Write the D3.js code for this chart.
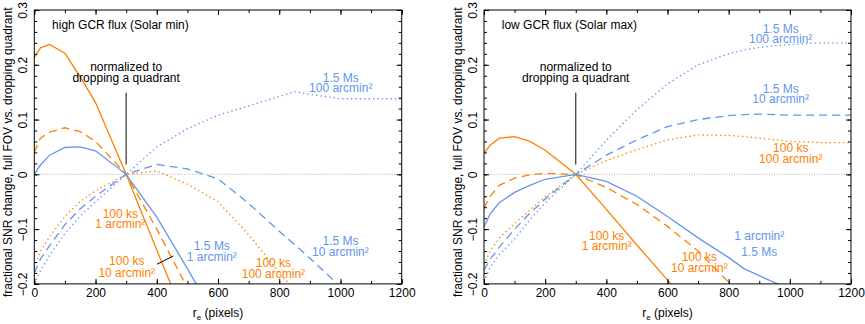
<!DOCTYPE html>
<html><head><meta charset="utf-8">
<script src="https://cdn.jsdelivr.net/npm/d3@7"></script>
<style>
body{margin:0;background:#fff;}
svg{display:block;font-family:"Liberation Sans",Arial,Helvetica,sans-serif;}
</style></head>
<body><svg id="c" width="865" height="324"></svg>
<script>
// ---------- data ----------
const rE = [0, 20, 50, 100, 150, 200, 300, 400, 500, 600, 700, 800, 850, 900, 1000, 1100, 1200];
const xTicks = [0, 200, 400, 600, 800, 1000, 1200];
const yTicks = [-0.2, -0.1, 0, 0.1, 0.2, 0.3];
const yTickLabels = ["\u22120.2", "\u22120.1", "0", "0.1", "0.2", "0.3"];

// high GCR flux (Solar min)
const minKs1    = [0.213, 0.231, 0.237, 0.221, 0.178, 0.131, 0, -0.138, -0.275, null, null, null, null, null, null, null, null];
const minKs10   = [0.040, 0.066, 0.077, 0.085, 0.078, 0.060, 0, -0.100, -0.207, null, null, null, null, null, null, null, null];
const minKs100  = [-0.170, -0.140, -0.114, -0.077, -0.050, -0.030, 0, 0.006, -0.018, -0.050, -0.110, -0.180, -0.210, null, null, null, null];
const minMs1    = [0, 0.017, 0.035, 0.049, 0.050, 0.043, 0, -0.078, -0.172, -0.270, null, null, null, null, null, null, null];
const minMs10   = [-0.180, -0.155, -0.130, -0.092, -0.063, -0.040, 0, 0.018, 0.010, -0.008, -0.053, -0.104, -0.128, -0.153, -0.205, null, null];
const minMs100  = [-0.200, -0.176, -0.148, -0.108, -0.076, -0.050, 0, 0.050, 0.083, 0.108, 0.125, 0.142, 0.151, 0.146, 0.138, 0.138, 0.138];

// low GCR flux (Solar max)
const maxKs1    = [0.039, 0.053, 0.066, 0.069, 0.060, 0.044, 0, -0.064, -0.129, -0.193, -0.257, null, null, null, null, null, null];
const maxKs10   = [-0.062, -0.040, -0.020, -0.007, -0.001, 0.002, 0, -0.024, -0.055, -0.095, -0.140, -0.197, -0.230, null, null, null, null];
const maxKs100  = [-0.165, -0.140, -0.116, -0.090, -0.065, -0.041, 0, 0.025, 0.045, 0.063, 0.072, 0.071, 0.069, 0.066, 0.060, 0.058, 0.058];
const maxMs1    = [-0.096, -0.072, -0.052, -0.033, -0.020, -0.009, 0, -0.013, -0.040, -0.077, -0.116, -0.152, -0.172, -0.185, -0.210, null, null];
const maxMs10   = [-0.175, -0.155, -0.133, -0.100, -0.071, -0.045, 0, 0.035, 0.063, 0.087, 0.100, 0.107, 0.109, 0.110, 0.108, 0.108, 0.108];
const maxMs100  = [-0.196, -0.170, -0.147, -0.118, -0.083, -0.052, 0, 0.062, 0.118, 0.165, 0.200, 0.220, 0.227, 0.232, 0.237, 0.240, 0.240];

const panelTitles = ["high GCR flux (Solar min)", "low GCR flux (Solar max)"];
const noteLines = ["normalized to", "dropping a quadrant"];

// ---------- styles ----------
const ORANGE = "#ff8000", BLUE = "#6495ed";
const styleOf = {
  solid:  null,
  dashed: "8,5",
  dotted: "1.4,3"
};

const svg = d3.select("#c");
const fs = 12;

const panels = [
  { x0: 34.3, x1: 401.7, title: panelTitles[0],
    series: [
      {v: minKs1, c: ORANGE, s: "solid"}, {v: minKs10, c: ORANGE, s: "dashed"}, {v: minKs100, c: ORANGE, s: "dotted"},
      {v: minMs1, c: BLUE, s: "solid"}, {v: minMs10, c: BLUE, s: "dashed"}, {v: minMs100, c: BLUE, s: "dotted"}],
    labels: [
      {c: BLUE, x: 1001, y: [0.169, 0.150], t: ["1.5 Ms", "100 arcmin\u00b2"]},
      {c: ORANGE, x: 281, y: [-0.080, -0.0985], t: ["100 ks", "1 arcmin\u00b2"]},
      {c: ORANGE, x: 302, y: [-0.1655, -0.187], t: ["100 ks", "10 arcmin\u00b2"]},
      {c: BLUE, x: 580, y: [-0.139, -0.159], t: ["1.5 Ms", "1 arcmin\u00b2"]},
      {c: BLUE, x: 1000, y: [-0.129, -0.149], t: ["1.5 Ms", "10 arcmin\u00b2"]},
      {c: ORANGE, x: 781, y: [-0.170, -0.190], t: ["100 ks", "100 arcmin\u00b2"]}],
    pointer: [[401, -0.164], [454, -0.149]]
  },
  { x0: 484, x1: 851, title: panelTitles[1],
    series: [
      {v: maxKs1, c: ORANGE, s: "solid"}, {v: maxKs10, c: ORANGE, s: "dashed"}, {v: maxKs100, c: ORANGE, s: "dotted"},
      {v: maxMs1, c: BLUE, s: "solid"}, {v: maxMs10, c: BLUE, s: "dashed"}, {v: maxMs100, c: BLUE, s: "dotted"}],
    labels: [
      {c: BLUE, x: 970, y: [0.258, 0.239], t: ["1.5 Ms", "100 arcmin\u00b2"]},
      {c: BLUE, x: 970, y: [0.149, 0.131], t: ["1.5 Ms", "10 arcmin\u00b2"]},
      {c: ORANGE, x: 1003, y: [0.041, 0.020], t: ["100 ks", "100 arcmin\u00b2"]},
      {c: ORANGE, x: 401, y: [-0.120, -0.139], t: ["100 ks", "1 arcmin\u00b2"]},
      {c: ORANGE, x: 704, y: [-0.159, -0.179], t: ["100 ks", "10 arcmin\u00b2"]},
      {c: BLUE, x: 900, y: [-0.120, -0.149], t: ["1 arcmin\u00b2", "1.5 Ms"]}],
    pointer: null
  }
];

const yTop = 10, yBot = 283.9;

panels.forEach((p, pi) => {
  const x = d3.scaleLinear().domain([0, 1200]).range([p.x0, p.x1]);
  const y = d3.scaleLinear().domain([-0.2, 0.3]).range([yBot, yTop]);
  const g = svg.append("g");
  const clipId = "clip" + pi;
  svg.append("defs").append("clipPath").attr("id", clipId)
    .append("rect").attr("x", p.x0).attr("y", yTop).attr("width", p.x1 - p.x0).attr("height", yBot - yTop);

  // zero line
  g.append("line").attr("x1", p.x0).attr("x2", p.x1).attr("y1", y(0)).attr("y2", y(0))
    .attr("stroke", "#9a9a9a").attr("stroke-width", 0.8).attr("stroke-dasharray", "1,1.5");

  // series
  const line = d3.line().defined(d => d[1] !== null).x(d => x(d[0])).y(d => y(d[1]));
  const lg = g.append("g").attr("clip-path", `url(#${clipId})`);
  p.series.forEach(s => {
    lg.append("path").datum(rE.map((r, i) => [r, s.v[i]]))
      .attr("d", line).attr("fill", "none").attr("stroke", s.c)
      .attr("stroke-width", 1.3)
      .attr("stroke-dasharray", styleOf[s.s]);
  });

  // axes (ticks inward on all sides)
  const tickFmt = () => "";
  const minorX = d3.range(0, 1201, 100);
  const minorY = d3.range(-0.2, 0.3001, 0.02);
  g.append("g").attr("transform", `translate(0,${yBot})`)
    .call(d3.axisBottom(x).tickValues(minorX).tickSize(-3).tickFormat(tickFmt));
  g.append("g").attr("class", "xlab").attr("transform", `translate(0,${yBot})`)
    .call(d3.axisBottom(x).tickValues(xTicks).tickSize(-5).tickPadding(5).tickFormat(d3.format("d")));
  g.append("g").attr("transform", `translate(0,${yTop})`)
    .call(d3.axisTop(x).tickValues(minorX).tickSize(-3).tickFormat(tickFmt));
  g.append("g").attr("transform", `translate(0,${yTop})`)
    .call(d3.axisTop(x).tickValues(xTicks).tickSize(-5).tickFormat(tickFmt));
  g.append("g").attr("transform", `translate(${p.x0},0)`)
    .call(d3.axisLeft(y).tickValues(minorY).tickSize(-3).tickFormat(tickFmt));
  const ly = g.append("g").attr("transform", `translate(${p.x0},0)`)
    .call(d3.axisLeft(y).tickValues(yTicks).tickSize(-5).tickFormat((d, i) => yTickLabels[i]));
  g.append("g").attr("transform", `translate(${p.x1},0)`)
    .call(d3.axisRight(y).tickValues(minorY).tickSize(-3).tickFormat(tickFmt));
  g.append("g").attr("transform", `translate(${p.x1},0)`)
    .call(d3.axisRight(y).tickValues(yTicks).tickSize(-5).tickFormat(tickFmt));

  g.selectAll(".domain").attr("stroke", "none");
  g.selectAll(".tick line").attr("stroke", "#000").attr("stroke-width", 1);
  g.selectAll(".tick text").attr("font-size", fs).attr("font-family", "Liberation Sans, Arial, sans-serif").attr("fill", "#000");
  // rotate y tick labels
  ly.selectAll(".tick text")
    .attr("x", null).attr("dy", null)
    .attr("text-anchor", "middle")
    .attr("transform", `translate(-7,0) rotate(-90)`)
    .attr("y", 0);
  // x tick label baseline
  g.selectAll(".xlab .tick text").attr("dy", null).attr("y", 12.8);

  // frame
  g.append("rect").attr("x", p.x0).attr("y", yTop).attr("width", p.x1 - p.x0).attr("height", yBot - yTop)
    .attr("fill", "none").attr("stroke", "#000").attr("stroke-width", 1);

  // title
  g.append("text").attr("x", x(58)).attr("y", y(0.265)).attr("font-size", fs).attr("fill", "#000").text(p.title);

  // note
  noteLines.forEach((t, i) => {
    g.append("text").attr("x", x(300)).attr("y", y([0.1885, 0.169][i])).attr("text-anchor", "middle")
      .attr("font-size", fs).attr("fill", "#000").text(t);
  });
  g.append("line").attr("x1", x(300)).attr("x2", x(300)).attr("y1", y(0.149)).attr("y2", y(0.018))
    .attr("stroke", "#333").attr("stroke-width", 1.2);

  // series labels
  p.labels.forEach(l => {
    l.t.forEach((t, i) => {
      g.append("text").attr("x", x(l.x)).attr("y", y(l.y[i])).attr("text-anchor", "middle")
        .attr("font-size", fs).attr("fill", l.c).text(t);
    });
  });
  if (p.pointer) {
    g.append("line").attr("x1", x(p.pointer[0][0])).attr("y1", y(p.pointer[0][1]))
      .attr("x2", x(p.pointer[1][0])).attr("y2", y(p.pointer[1][1]))
      .attr("stroke", "#000").attr("stroke-width", 1);
  }

  // axis titles
  const xt = g.append("text").attr("x", (p.x0 + p.x1) / 2).attr("y", 316.5).attr("text-anchor", "middle")
    .attr("font-size", fs).attr("fill", "#000");
  xt.append("tspan").text("r");
  xt.append("tspan").attr("font-size", 8).attr("dy", 3).text("e");
  xt.append("tspan").attr("dy", -3).text(" (pixels)");

  g.append("text").attr("transform", `translate(${p.x0 - 22},297) rotate(-90)`)
    .attr("font-size", fs).attr("fill", "#000")
    .text("fractional SNR change, full FOV vs. dropping quadrant");
});
</script></body></html>
